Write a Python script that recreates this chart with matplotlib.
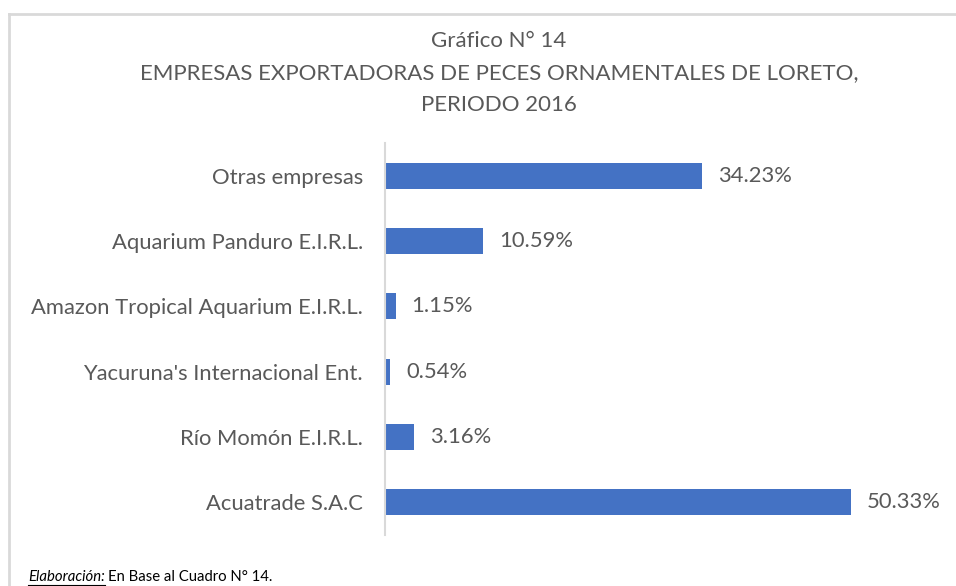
import matplotlib
matplotlib.use("Agg")
from matplotlib import pyplot as plt
from matplotlib.lines import Line2D

empresas = ["Acuatrade S.A.C", "Río Momón E.I.R.L.", "Yacuruna's Internacional Ent.",
            "Amazon Tropical Aquarium E.I.R.L.", "Aquarium Panduro E.I.R.L.", "Otras empresas"]
porcentajes = [50.33, 3.16, 0.54, 1.15, 10.59, 34.23]

plt.rcParams["font.family"] = ["Lato", "DejaVu Sans"]
gris = "#595959"

fig = plt.figure(figsize=(9.56, 5.86), dpi=100)
W, H = 956, 586
ax = fig.add_axes([385 / W, 1 - 535 / H, (940 - 385) / W, (535 - 143) / H])

y = range(len(empresas))
ax.barh(y, porcentajes, height=0.4, color="#4472C4")
ax.set_xlim(0, 60)
ax.set_ylim(-0.5, len(empresas) - 0.5)
ax.set_yticks(list(y))
ax.set_yticklabels(empresas, color=gris, fontsize=15.8)
ax.tick_params(axis="y", length=0, pad=16)
ax.set_xticks([])
for s in ["top", "right", "bottom"]:
    ax.spines[s].set_visible(False)
ax.spines["left"].set_color("#D9D9D9")
ax.spines["left"].set_linewidth(1.5)

for i, v in enumerate(porcentajes):
    ax.annotate(f"{v:.2f}%", (v, i), xytext=(11.5, 0), textcoords="offset points",
                va="center", ha="left", color=gris, fontsize=15.8)

# titulo
titulo = ["Gráfico N° 14", "EMPRESAS EXPORTADORAS DE PECES ORNAMENTALES DE LORETO,", "PERIODO 2016"]
for k, t in enumerate(titulo):
    fig.text(499 / W, 1 - (41 + 32 * k) / H, t, ha="center", va="center", color=gris, fontsize=16)

# marco del grafico
fig.add_artist(Line2D([9 / W, 9 / W], [0, 1 - 14 / H], color="#D9D9D9", lw=2))
fig.add_artist(Line2D([9 / W, 1], [1 - 14 / H, 1 - 14 / H], color="#D9D9D9", lw=2))

# nota
t1 = fig.text(28 / W, 1 - 577 / H, "Elaboración:", style="italic", fontsize=10.7, va="center", color="black")
fig.canvas.draw()
bb = t1.get_window_extent()
fig.text(bb.x1 / W + 3 / W, 1 - 577 / H, "En Base al Cuadro N° 14.", fontsize=10.7, va="center", color="black")
fig.add_artist(Line2D([bb.x0 / W, bb.x1 / W], [(bb.y0 - 1) / H, (bb.y0 - 1) / H], color="black", lw=0.8))

fig.savefig("out.png", dpi=100)
